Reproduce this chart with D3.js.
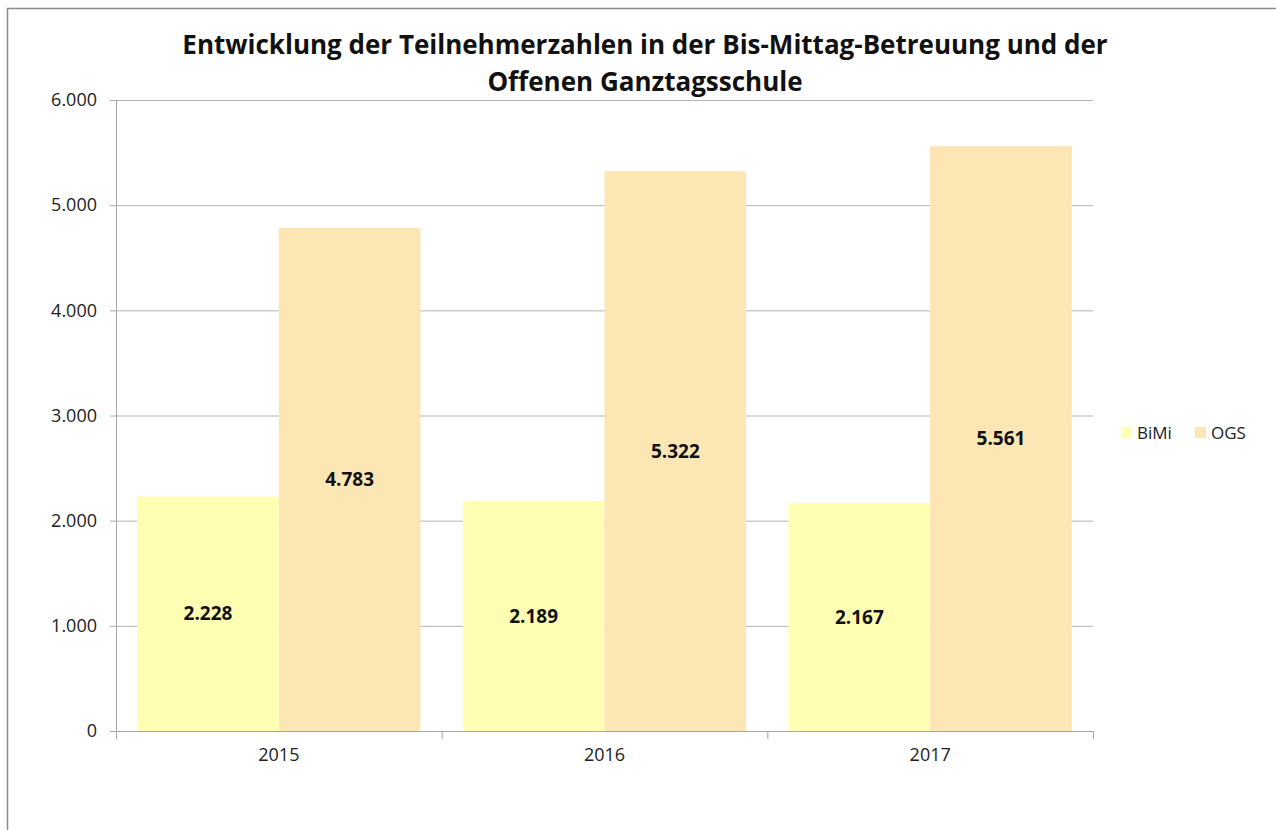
<!DOCTYPE html>
<html>
<head>
<meta charset="utf-8">
<script src="https://cdn.jsdelivr.net/npm/d3@7"></script>
<style>
  body { margin: 0; background: #fff; }
  text { font-family: "Open Sans", "Noto Sans", sans-serif; }
</style>
</head>
<body>
<div id="chart"></div>
<script>
// Data
var years = ["2015", "2016", "2017"];
var seriesNames = ["BiMi", "OGS"];
var bimi = [2228, 2189, 2167];
var ogs = [4783, 5322, 5561];
var yTicks = [0, 1000, 2000, 3000, 4000, 5000, 6000];
var colors = ["#ffffb3", "#fce6b3"];

var svgWidth = 1276;
var svgHeight = 830;

var margin = { top: 100, left: 116, right: 1276 - 1093, bottom: 830 - 731 };
var chartWidth = svgWidth - margin.left - margin.right;
var chartHeight = svgHeight - margin.top - margin.bottom;

var svg = d3.select("#chart")
  .append("svg")
  .attr("width", svgWidth)
  .attr("height", svgHeight);

// outer frame
svg.append("path")
  .attr("d", "M7.5,840 L7.5,8.5 L1290,8.5")
  .attr("fill", "none")
  .attr("stroke", "#8c8c8c")
  .attr("stroke-width", 1.5);

var chartGroup = svg.append("g")
  .attr("transform", `translate(${margin.left}, ${margin.top})`);

var x0 = d3.scaleBand()
  .domain(years)
  .range([0, chartWidth])
  .paddingInner(0.13)
  .paddingOuter(0.065);

var x1 = d3.scaleBand()
  .domain(seriesNames)
  .range([0, x0.bandwidth()]);

var yScale = d3.scaleLinear()
  .domain([0, 6000])
  .range([chartHeight, 0]);

var fmt = function (d) { return d3.format(",")(d).replace(/,/g, "."); };

// gridlines
chartGroup.selectAll(".grid")
  .data(yTicks)
  .enter()
  .append("line")
  .attr("x1", 0)
  .attr("x2", chartWidth)
  .attr("y1", d => yScale(d) + 0.5)
  .attr("y2", d => yScale(d) + 0.5)
  .attr("stroke", "#b3b3b3")
  .attr("stroke-width", 1);

// bars
var rows = years.map(function (yr, i) {
  return { year: yr, values: [{ key: "BiMi", value: bimi[i] }, { key: "OGS", value: ogs[i] }] };
});

var groups = chartGroup.selectAll(".year")
  .data(rows)
  .enter()
  .append("g")
  .attr("transform", d => `translate(${x0(d.year)}, 0)`);

groups.selectAll("rect")
  .data(d => d.values)
  .enter()
  .append("rect")
  .attr("x", d => x1(d.key))
  .attr("y", d => yScale(d.value))
  .attr("width", x1.bandwidth())
  .attr("height", d => chartHeight - yScale(d.value))
  .attr("fill", (d, i) => colors[i]);

groups.selectAll(".lbl")
  .data(d => d.values)
  .enter()
  .append("text")
  .attr("x", d => x1(d.key) + x1.bandwidth() / 2)
  .attr("y", d => yScale(d.value / 2))
  .attr("dy", "0.35em")
  .attr("text-anchor", "middle")
  .attr("font-size", "19px")
  .attr("font-weight", "bold")
  .attr("fill", "#111")
  .text(d => fmt(d.value));

// axes
var leftAxis = d3.axisLeft(yScale)
  .tickValues(yTicks)
  .tickFormat(fmt)
  .tickSize(6)
  .tickPadding(13);

var yAxis = chartGroup.append("g")
  .call(leftAxis);

var bottomAxis = d3.axisBottom(x0).tickSize(0).tickPadding(17);
var xAxis = chartGroup.append("g")
  .attr("transform", `translate(0, ${chartHeight})`)
  .call(bottomAxis);

// x tick marks between categories
xAxis.selectAll(".sep")
  .data(d3.range(years.length + 1))
  .enter()
  .append("line")
  .attr("x1", i => i * chartWidth / years.length + 0.5)
  .attr("x2", i => i * chartWidth / years.length + 0.5)
  .attr("y1", 0)
  .attr("y2", 8)
  .attr("stroke", "#a6a6a6");

[yAxis, xAxis].forEach(function (ax) {
  ax.select(".domain").attr("stroke", "#a6a6a6");
  ax.selectAll(".tick line").attr("stroke", "#a6a6a6");
  ax.selectAll(".tick text")
    .attr("font-family", "'Open Sans', sans-serif")
    .attr("font-size", "18px")
    .attr("fill", "#222");
});

// title
var title = svg.append("text")
  .attr("text-anchor", "middle")
  .attr("font-size", "26px")
  .attr("font-weight", "bold")
  .attr("fill", "#111");
title.append("tspan").attr("x", 645).attr("y", 54)
  .text("Entwicklung der Teilnehmerzahlen in der Bis-Mittag-Betreuung und der");
title.append("tspan").attr("x", 645).attr("y", 91)
  .text("Offenen Ganztagsschule");

// legend
var legendX = [1121, 1195];
var legend = svg.selectAll(".legend")
  .data(seriesNames)
  .enter()
  .append("g")
  .attr("transform", (d, i) => `translate(${legendX[i]}, 427)`);

legend.append("rect")
  .attr("width", 11)
  .attr("height", 11)
  .attr("fill", (d, i) => colors[i]);

legend.append("text")
  .attr("x", 16)
  .attr("y", 6)
  .attr("dy", "0.35em")
  .attr("font-size", "17px")
  .attr("fill", "#222")
  .text(d => d);
</script>
</body>
</html>
